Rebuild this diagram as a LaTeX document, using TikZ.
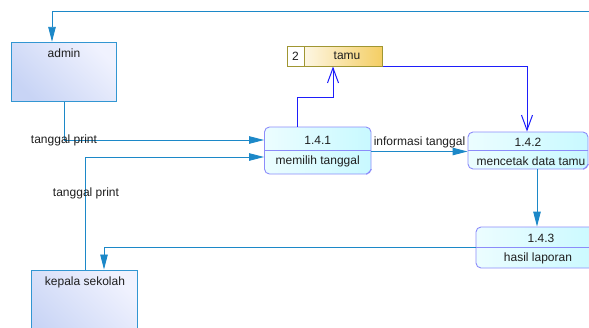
\documentclass[tikz,border=0pt]{standalone}
\usepackage{fontspec}
\setmainfont{Liberation Sans}
\usetikzlibrary{arrows.meta,calc,shadings}
\definecolor{flowc}{RGB}{28,136,200}
\definecolor{storec}{RGB}{30,30,250}
\definecolor{procb}{RGB}{140,140,250}
\definecolor{procl}{RGB}{236,253,255}
\definecolor{procr}{RGB}{200,249,255}
\definecolor{entb}{RGB}{50,150,210}
\definecolor{entul}{RGB}{200,212,245}
\definecolor{entlr}{RGB}{240,242,254}
\definecolor{storeb}{RGB}{160,150,50}
\definecolor{storer}{RGB}{244,206,100}
\definecolor{txt}{RGB}{30,30,30}
\tikzset{
  every node/.style={font=\fontsize{12}{14}\selectfont, text=txt, inner sep=0pt},
  entity/.style={draw=entb, line width=1pt, top color=entul, bottom color=entlr, shading angle=135},
  proc/.style={draw=procb, line width=0.9pt, rounded corners=5pt, left color=procl, right color=procr},
  divider/.style={draw=procb, line width=0.9pt},
  flow/.style={draw=flowc, line width=0.9pt, -{Triangle[length=15pt,width=7.5pt]}},
  storeflow/.style={draw=storec, line width=1pt, -{Straight Barb[length=15pt,width=11pt]}},
  storebox/.style={draw=storeb, line width=1pt, left color=white, right color=storer},
  storenum/.style={draw=storeb, line width=1pt, fill=white},
}
\begin{document}
\begin{tikzpicture}[x=1pt,y=-1pt]
\useasboundingbox (0,0) rectangle (589,327);
\clip (0,0) rectangle (589,327);
% entities
\node[entity, minimum width=105.5pt, minimum height=59pt] (admin) at (64,71.8) {};
\node (admint) at (64,53) {admin};
\node[entity, minimum width=105.6pt, minimum height=80pt] (kep) at (84.5,310) {};
\node (kept) at (85,282) {kepala sekolah};
% store
\node[storebox, minimum width=95pt, minimum height=20pt] (tamu) at (334.5,56) {};
\node[storenum, minimum width=17pt, minimum height=20pt] (tnum) at (295.5,56) {};
\node (tnumt) at (295.5,56) {2};
\node (tamut) at (347,56) {tamu};
% processes
\node[proc, minimum width=106.5pt, minimum height=47pt] (p1) at (317.75,150.5) {};
\draw[divider] (p1.west) -- (p1.east);
\draw[divider] ($(p1.south east)+(-5,0)$) -- ($(p1.south east)+(0,-5)$);
\node (p1a) at (317.75,140) {1.4.1};
\node (p1b) at (317.75,161) {memilih tanggal};
\node[proc, minimum width=120pt, minimum height=37pt] (p2) at (528,150.5) {};
\draw[divider] (p2.west) -- (p2.east);
\draw[divider] ($(p2.south east)+(-5,0)$) -- ($(p2.south east)+(0,-5)$);
\node (p2a) at (528,142) {1.4.2};
\node (p2b) at (531,161) {mencetak data tamu};
\node[proc, minimum width=128pt, minimum height=41pt] (p3) at (540,247.5) {};
\draw[divider] (p3.west) -- (p3.east);
\node (p3a) at (541,238) {1.4.3};
\node (p3b) at (538,258) {hasil laporan};
% flows
\coordinate (topr) at (592,11);
\draw[flow] (topr) -| (admin.north -| 52,0);
\draw[flow] (admin.south -| 64,0) |- (p1.west |- 0,140);
\draw[flow] (kep.north -| 85,0) |- (p1.west |- 0,157);
\draw[flow] (p1.east |- 0,151.5) -- (p2.west |- 0,151.5);
\draw[flow] (p2.south -| 537,0) -- (p3.north -| 537,0);
\draw[flow] (p3.west) -| (kep.north -| 104,0);
\coordinate (k1) at (333,97);
\draw[storeflow] (p1.north -| 297,0) |- (k1) -- (k1 |- tamu.south);
\draw[storeflow] (tamu.south east) -| (p2.north -| 527,0);
% labels
\node (l1) at (64,140) {tanggal print};
\node (l2) at (86,193) {tanggal print};
\node (l3) at (419.5,142) {informasi tanggal};
\end{tikzpicture}
\end{document}
